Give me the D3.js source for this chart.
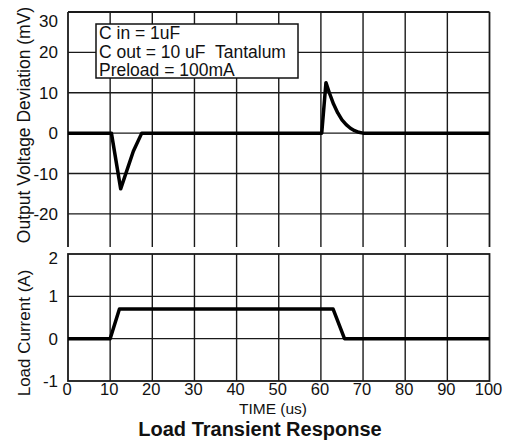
<!DOCTYPE html>
<html><head><meta charset="utf-8">
<script src="https://cdn.jsdelivr.net/npm/d3@7"></script>
<style>body{margin:0;background:#fff}svg{display:block}text{font-family:"Liberation Sans",Arial,sans-serif;fill:#111;white-space:pre}</style>
</head><body><svg id="c" width="505" height="440"></svg>
<script>
// Data
const xTicks = [0,10,20,30,40,50,60,70,80,90,100];
const vTicks = [30,20,10,0,-10,-20];
const iTicks = [2,1,0,-1];
const voltTime = [0,10,10.3,12.5,15.5,17.5,60,60.2,61.2,62,63,64,65,66,67,68,69,70,100];
const voltVal  = [0,0,0,-13.8,-4.5,0,0,0,12.5,10,7.2,5,3.3,2.1,1.2,0.6,0.2,0,0];
const currTime = [0,10,12.2,62.9,65.6,100];
const currVal  = [0,0,0.7,0.7,0,0];
const legendLines = ["C in = 1uF","C out = 10 uF  Tantalum","Preload = 100mA"];

const svg = d3.select("#c");
const x = d3.scaleLinear().domain([0,100]).range([68,489.5]);
const yV = d3.scaleLinear().domain([-28.2,30]).range([247,12]);
const yI = d3.scaleLinear().domain([-1,2]).range([381,254]);
const gridC = "#1a1a1a";
const tickFS = 17;

// top panel grid
const gTop = svg.append("g");
gTop.selectAll("line.h").data(vTicks.filter(d=>d<30)).join("line")
  .attr("x1",x(0)).attr("x2",x(100)).attr("y1",d=>yV(d)).attr("y2",d=>yV(d))
  .attr("stroke",gridC).attr("stroke-width",1.4);
gTop.selectAll("line.v").data(xTicks).join("line")
  .attr("x1",d=>x(d)).attr("x2",d=>x(d)).attr("y1",yV(30)).attr("y2",yV(-28.2))
  .attr("stroke",gridC).attr("stroke-width",d=>(d===0||d===100)?1.8:1.4);
gTop.append("line").attr("x1",x(0)).attr("x2",x(100)).attr("y1",yV(30)).attr("y2",yV(30))
  .attr("stroke",gridC).attr("stroke-width",1.8);
gTop.selectAll("text.yt").data(vTicks).join("text")
  .attr("x",58).attr("y",d=>d===30?yV(d)+9:yV(d)).attr("dy","0.36em")
  .attr("text-anchor","end").attr("font-size",tickFS).text(d=>d);

// bottom panel grid
const gBot = svg.append("g");
gBot.selectAll("line.h").data([1,0]).join("line")
  .attr("x1",x(0)).attr("x2",x(100)).attr("y1",d=>yI(d)).attr("y2",d=>yI(d))
  .attr("stroke",gridC).attr("stroke-width",1.4);
gBot.selectAll("line.v").data(xTicks.slice(1,-1)).join("line")
  .attr("x1",d=>x(d)).attr("x2",d=>x(d)).attr("y1",yI(2)).attr("y2",yI(-1))
  .attr("stroke",gridC).attr("stroke-width",1.4);
gBot.append("rect").attr("x",x(0)).attr("y",yI(2)).attr("width",x(100)-x(0)).attr("height",yI(-1)-yI(2))
  .attr("fill","none").attr("stroke",gridC).attr("stroke-width",1.8);
gBot.selectAll("text.yt").data(iTicks).join("text")
  .attr("x",58).attr("y",d=>d===2?yI(d)+4:yI(d)).attr("dy","0.36em")
  .attr("text-anchor","end").attr("font-size",tickFS).text(d=>d);
gBot.selectAll("text.xt").data(xTicks).join("text")
  .attr("x",d=>x(d)-1).attr("y",395).attr("text-anchor","middle").attr("font-size",16.5).text(d=>d);

// data lines
const lineV = d3.line().x(d=>x(d[0])).y(d=>yV(d[1]));
svg.append("path").datum(voltTime.map((t,i)=>[t,voltVal[i]])).attr("d",lineV)
  .attr("fill","none").attr("stroke","#000").attr("stroke-width",3.5).attr("stroke-linejoin","round");
const lineI = d3.line().x(d=>x(d[0])).y(d=>yI(d[1]));
svg.append("path").datum(currTime.map((t,i)=>[t,currVal[i]])).attr("d",lineI)
  .attr("fill","none").attr("stroke","#000").attr("stroke-width",3.5).attr("stroke-linejoin","round");

// legend
svg.append("rect").attr("x",96).attr("y",24).attr("width",202).attr("height",54)
  .attr("fill","#fff").attr("stroke","#111").attr("stroke-width",1.5);
svg.selectAll("text.lg").data(legendLines).join("text")
  .attr("x",99).attr("y",(d,i)=>39+i*18.5).attr("font-size",17.5).text(d=>d);

// axis titles
svg.append("text").attr("transform","translate(30,125) rotate(-90)").attr("text-anchor","middle")
  .attr("font-size",17.5).text("Output Voltage Deviation (mV)");
svg.append("text").attr("transform","translate(30,333) rotate(-90)").attr("text-anchor","middle")
  .attr("font-size",17).text("Load Current (A)");
svg.append("text").attr("x",273).attr("y",414).attr("text-anchor","middle").attr("font-size",15.5).text("TIME (us)");
svg.append("text").attr("x",260).attr("y",436).attr("text-anchor","middle").attr("font-size",20)
  .attr("font-weight","bold").text("Load Transient Response");
</script></body></html>
